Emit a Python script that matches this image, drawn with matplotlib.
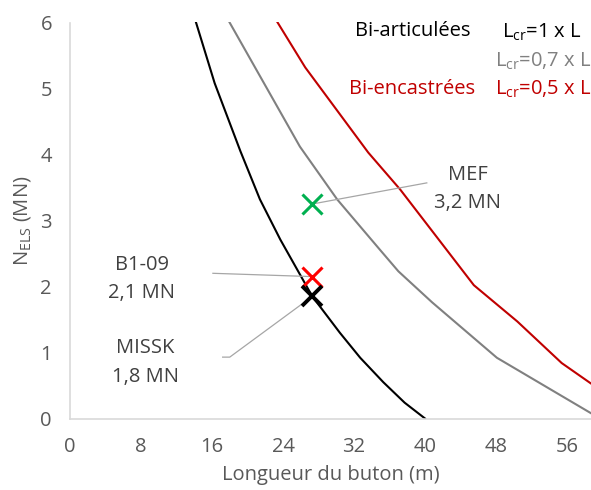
import matplotlib
matplotlib.use('Agg')
import matplotlib.pyplot as plt

# curve data (length in m, N_ELS in MN)
L_art = [14.2, 16.3, 19.2, 21.4, 23.7, 27.3, 30.4, 32.7, 35.3, 37.7, 40.0]
N_art = [6.0, 5.08, 4.05, 3.32, 2.71, 1.85, 1.30, 0.92, 0.55, 0.24, 0.0]

L_07 = [17.9, 25.9, 30.1, 34.9, 37.0, 40.8, 48.1, 58.7]
N_07 = [6.02, 4.12, 3.32, 2.56, 2.23, 1.76, 0.92, 0.08]

L_enc = [23.3, 26.5, 33.6, 37.2, 45.5, 50.4, 55.4, 58.7]
N_enc = [6.02, 5.32, 4.03, 3.47, 2.02, 1.47, 0.84, 0.53]

# measured points
pt_L = [27.3, 27.3, 27.3]
pt_N = [3.25, 2.15, 1.85]
pt_names = ['MEF', 'B1-09', 'MISSK']
pt_labels = ['3,2 MN', '2,1 MN', '1,8 MN']
pt_colors = ['#00b050', '#ff0000', '#000000']

x_ticks = [0, 8, 16, 24, 32, 40, 48, 56]
y_ticks = [0, 1, 2, 3, 4, 5, 6]

plt.rcParams['font.family'] = ['Open Sans', 'DejaVu Sans']
plt.rcParams['mathtext.fontset'] = 'custom'
plt.rcParams['mathtext.rm'] = 'Open Sans'

fig = plt.figure(figsize=(5.91, 4.90), dpi=100)
ax = fig.add_axes([70 / 591, 1 - 418.5 / 490, 1 - 70 / 591, (418.5 - 22.5) / 490])

ax.plot(L_art, N_art, color='black', lw=1.5)
ax.plot(L_07, N_07, color='#808080', lw=1.5)
ax.plot(L_enc, N_enc, color='#c00000', lw=1.5)

# leader lines
lead = '#a6a6a6'
ax.plot([pt_L[0], 40.2], [pt_N[0], 3.57], color=lead, lw=0.9)
ax.plot([16.1, pt_L[1]], [2.20, pt_N[1]], color=lead, lw=0.9)
ax.plot([17.2, 18.0, pt_L[2]], [0.93, 0.93, pt_N[2]], color=lead, lw=0.9)

for L, N, c in zip(pt_L, pt_N, pt_colors):
    ax.plot(L, N, marker='x', ms=14, mew=2.8 if c == '#000000' else 2.2,
            color=c, linestyle='none')

txt = '#404040'
fs = 14.5
ax.text(44.8, 3.61, pt_names[0], ha='center', va='baseline', color=txt, fontsize=fs)
ax.text(44.8, 3.19, pt_labels[0], ha='center', va='baseline', color=txt, fontsize=fs)
ax.text(8.1, 2.25, pt_names[1], ha='center', va='baseline', color=txt, fontsize=fs)
ax.text(8.1, 1.83, pt_labels[1], ha='center', va='baseline', color=txt, fontsize=fs)
ax.text(8.5, 0.99, pt_names[2], ha='center', va='baseline', color=txt, fontsize=fs)
ax.text(8.5, 0.55, pt_labels[2], ha='center', va='baseline', color=txt, fontsize=fs)

ax.text(38.6, 5.80, 'Bi-articulées', ha='center', va='baseline', color='black', fontsize=fs)
ax.text(38.5, 4.92, 'Bi-encastrées', ha='center', va='baseline', color='#c00000', fontsize=fs)
ax.text(48.7, 5.77, r'L$_{\mathregular{cr}}$=1 x L', ha='left', va='baseline', color='black', fontsize=fs)
ax.text(47.9, 5.33, r'L$_{\mathregular{cr}}$=0,7 x L', ha='left', va='baseline', color='#808080', fontsize=fs)
ax.text(47.9, 4.90, r'L$_{\mathregular{cr}}$=0,5 x L', ha='left', va='baseline', color='#c00000', fontsize=fs)

ax.set_xlim(0, 58.7)
ax.set_ylim(0, 6)
ax.set_xticks(x_ticks)
ax.set_yticks(y_ticks)
ax.tick_params(length=0, labelsize=fs, colors='#595959', pad=13)
for s in ['top', 'right']:
    ax.spines[s].set_visible(False)
for s in ['left', 'bottom']:
    ax.spines[s].set_color('#d9d9d9')
    ax.spines[s].set_linewidth(1.2)

ax.set_xlabel('Longueur du buton (m)', fontsize=fs, color='#595959', labelpad=6)
ax.set_ylabel(r'N$_{\mathregular{ELS}}$ (MN)', fontsize=fs, color='#595959', labelpad=5)

fig.savefig('out.png', dpi=100)
